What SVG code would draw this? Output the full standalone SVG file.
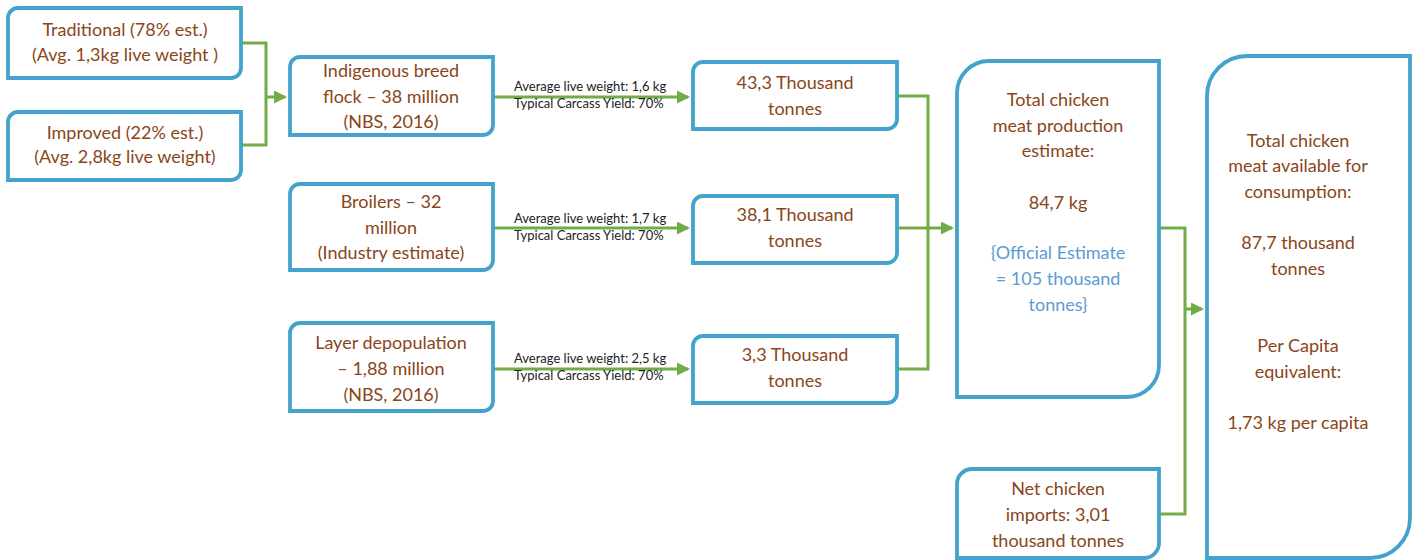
<svg xmlns="http://www.w3.org/2000/svg" width="1414" height="560" viewBox="0 0 1414 560">
<defs>
<marker id="ah" markerWidth="13" markerHeight="13" refX="11" refY="6.5" orient="auto" markerUnits="userSpaceOnUse"><path d="M0,0 L13,6.5 L0,13 Z" fill="#70AD47"/></marker>
<style>
.box{fill:#fff;stroke:#44A3CC;stroke-width:3.8}
.t{font-family:Lato,"Liberation Sans",sans-serif;font-size:18px;fill:#8A4519;text-anchor:middle}
.b{fill:#5B9BD5}
.s{font-family:Lato,"Liberation Sans",sans-serif;font-size:13px;fill:#222}
.c{fill:none;stroke:#70AD47;stroke-width:3}
</style>
</defs>
<rect width="1414" height="560" fill="#fff"/>
<g id="connectors">
<path class="c" d="M241,43 H266 V145 H241"/>
<path class="c" d="M266,97 H285" marker-end="url(#ah)"/>
<path class="c" d="M493,97 H688" marker-end="url(#ah)"/>
<path class="c" d="M493,228 H688" marker-end="url(#ah)"/>
<path class="c" d="M493,369 H688" marker-end="url(#ah)"/>
<path class="c" d="M897,96 H928 V369 H897"/>
<path class="c" d="M897,228 H952" marker-end="url(#ah)"/>
<path class="c" d="M1160,228 H1185 V514 H1160"/>
<path class="c" d="M1185,309 H1202" marker-end="url(#ah)"/>
<text class="s" x="514" y="91">Average live weight: 1,6 kg</text>
<text class="s" x="514" y="108">Typical Carcass Yield: 70%</text>
<text class="s" x="514" y="223">Average live weight: 1,7 kg</text>
<text class="s" x="514" y="240">Typical Carcass Yield: 70%</text>
<text class="s" x="514" y="363">Average live weight: 2,5 kg</text>
<text class="s" x="514" y="380">Typical Carcass Yield: 70%</text>
</g>
<g id="traditional">
<path class="box" d="M18,8 H241 V68 A10,10 0 0 1 231,78 H8 V18 A10,10 0 0 1 18,8 Z"/>
<text class="t" x="125" y="36">Traditional (78% est.)</text>
<text class="t" x="125" y="61">(Avg. 1,3kg live weight )</text>
</g>
<g id="improved">
<path class="box" d="M18,112 H241 V170 A10,10 0 0 1 231,180 H8 V122 A10,10 0 0 1 18,112 Z"/>
<text class="t" x="125" y="139">Improved (22% est.)</text>
<text class="t" x="125" y="163">(Avg. 2,8kg live weight)</text>
</g>
<g id="indigenous">
<path class="box" d="M300,57 H493 V125 A10,10 0 0 1 483,135 H290 V67 A10,10 0 0 1 300,57 Z"/>
<text class="t" x="391" y="77">Indigenous breed</text>
<text class="t" x="391" y="103">flock – 38 million</text>
<text class="t" x="391" y="128">(NBS, 2016)</text>
</g>
<g id="broilers">
<path class="box" d="M300,184 H493 V260 A10,10 0 0 1 483,270 H290 V194 A10,10 0 0 1 300,184 Z"/>
<text class="t" x="391" y="208">Broilers – 32</text>
<text class="t" x="391" y="234">million</text>
<text class="t" x="391" y="259">(Industry estimate)</text>
</g>
<g id="layer">
<path class="box" d="M300,323 H493 V401 A10,10 0 0 1 483,411 H290 V333 A10,10 0 0 1 300,323 Z"/>
<text class="t" x="391" y="349">Layer depopulation</text>
<text class="t" x="391" y="375">– 1,88 million</text>
<text class="t" x="391" y="401">(NBS, 2016)</text>
</g>
<g id="res1">
<path class="box" d="M703,62 H897 V119 A10,10 0 0 1 887,129 H693 V72 A10,10 0 0 1 703,62 Z"/>
<text class="t" x="795" y="89">43,3 Thousand</text>
<text class="t" x="795" y="115">tonnes</text>
</g>
<g id="res2">
<path class="box" d="M703,196 H897 V253 A10,10 0 0 1 887,263 H693 V206 A10,10 0 0 1 703,196 Z"/>
<text class="t" x="795" y="221">38,1 Thousand</text>
<text class="t" x="795" y="247">tonnes</text>
</g>
<g id="res3">
<path class="box" d="M703,336 H897 V393 A10,10 0 0 1 887,403 H693 V346 A10,10 0 0 1 703,336 Z"/>
<text class="t" x="795" y="361">3,3 Thousand</text>
<text class="t" x="795" y="387">tonnes</text>
</g>
<g id="production">
<path class="box" d="M989,61 H1159 V365 A32,32 0 0 1 1127,397 H957 V93 A32,32 0 0 1 989,61 Z"/>
<text class="t" x="1058" y="106">Total chicken</text>
<text class="t" x="1058" y="132">meat production</text>
<text class="t" x="1058" y="157">estimate:</text>
<text class="t" x="1058" y="209">84,7 kg</text>
<text class="t b" x="1058" y="259">{Official Estimate</text>
<text class="t b" x="1058" y="285">= 105 thousand</text>
<text class="t b" x="1058" y="311">tonnes}</text>
</g>
<g id="imports">
<path class="box" d="M972,469 H1159 V543 A15,15 0 0 1 1144,558 H957 V484 A15,15 0 0 1 972,469 Z"/>
<text class="t" x="1058" y="495">Net chicken</text>
<text class="t" x="1058" y="521">imports: 3,01</text>
<text class="t" x="1058" y="547">thousand tonnes</text>
</g>
<g id="available">
<path class="box" d="M1247,56 H1410 V518 A40,40 0 0 1 1370,558 H1207 V96 A40,40 0 0 1 1247,56 Z"/>
<text class="t" x="1298" y="147">Total chicken</text>
<text class="t" x="1298" y="172">meat available for</text>
<text class="t" x="1298" y="198">consumption:</text>
<text class="t" x="1298" y="249">87,7 thousand</text>
<text class="t" x="1298" y="275">tonnes</text>
<text class="t" x="1298" y="352">Per Capita</text>
<text class="t" x="1298" y="378">equivalent:</text>
<text class="t" x="1298" y="429">1,73 kg per capita</text>
</g>
</svg>
